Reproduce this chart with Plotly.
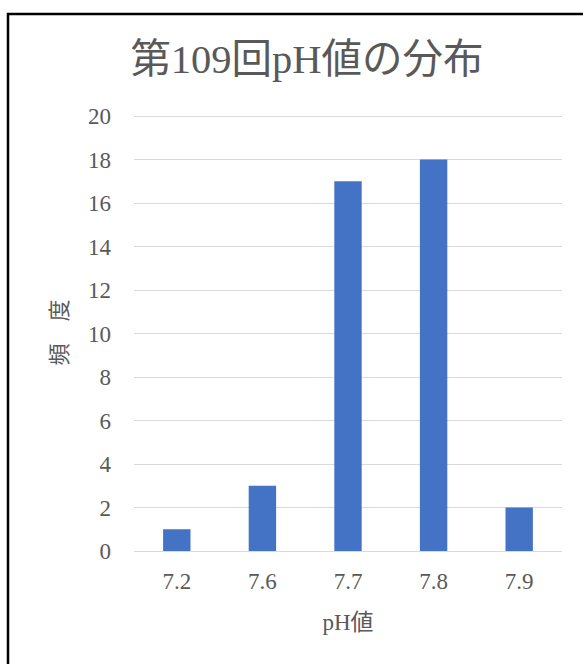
import plotly.graph_objects as go

categories = ["7.2", "7.6", "7.7", "7.8", "7.9"]
counts = [1, 3, 17, 18, 2]
y_ticks = list(range(0, 21, 2))

W, H = 583, 664
L, R, T, B = 134, 21, 114, 113
pw, ph = W - L - R, H - T - B
y_top = 20 * ph / (ph - 2)

font_serif = "Liberation Serif, Noto Sans CJK JP, serif"
gray = "#595959"

fig = go.Figure(go.Bar(x=categories, y=counts, marker=dict(color="#4472C4", line=dict(width=0)), width=0.32))

def px2x(px):
    return (px - L) / pw

def px2y(py):
    return 1 - (py - T) / ph

fig.update_layout(
    width=W, height=H,
    margin=dict(l=L, r=R, t=T, b=B),
    paper_bgcolor="white", plot_bgcolor="white",
    font=dict(family=font_serif, color=gray, size=23),
    title=dict(text="第109回pH値の分布", x=307 / W, xanchor="center", y=1 - 59 / H, yanchor="middle",
               font=dict(size=40.5, color=gray, family=font_serif)),
    xaxis=dict(title=dict(text="pH値", font=dict(size=23), standoff=20), showgrid=False, showline=False,
               ticks="", tickfont=dict(size=23), ticklabelstandoff=14),
    yaxis=dict(range=[0, y_top], tickvals=y_ticks, showgrid=True, gridcolor="#D9D9D9", gridwidth=1.3,
               zeroline=True, zerolinecolor="#D9D9D9", zerolinewidth=1.3, ticks="",
               tickfont=dict(size=23), ticklabelstandoff=22,
               title=dict(text="頻　度", font=dict(size=22), standoff=14)),
    showlegend=False,
    shapes=[dict(type="rect", xref="paper", yref="paper",
                 x0=px2x(8), x1=px2x(700), y0=px2y(800), y1=px2y(14),
                 line=dict(color="black", width=2.5), fillcolor="rgba(0,0,0,0)", layer="above")],
)

fig.write_html("out.html")
